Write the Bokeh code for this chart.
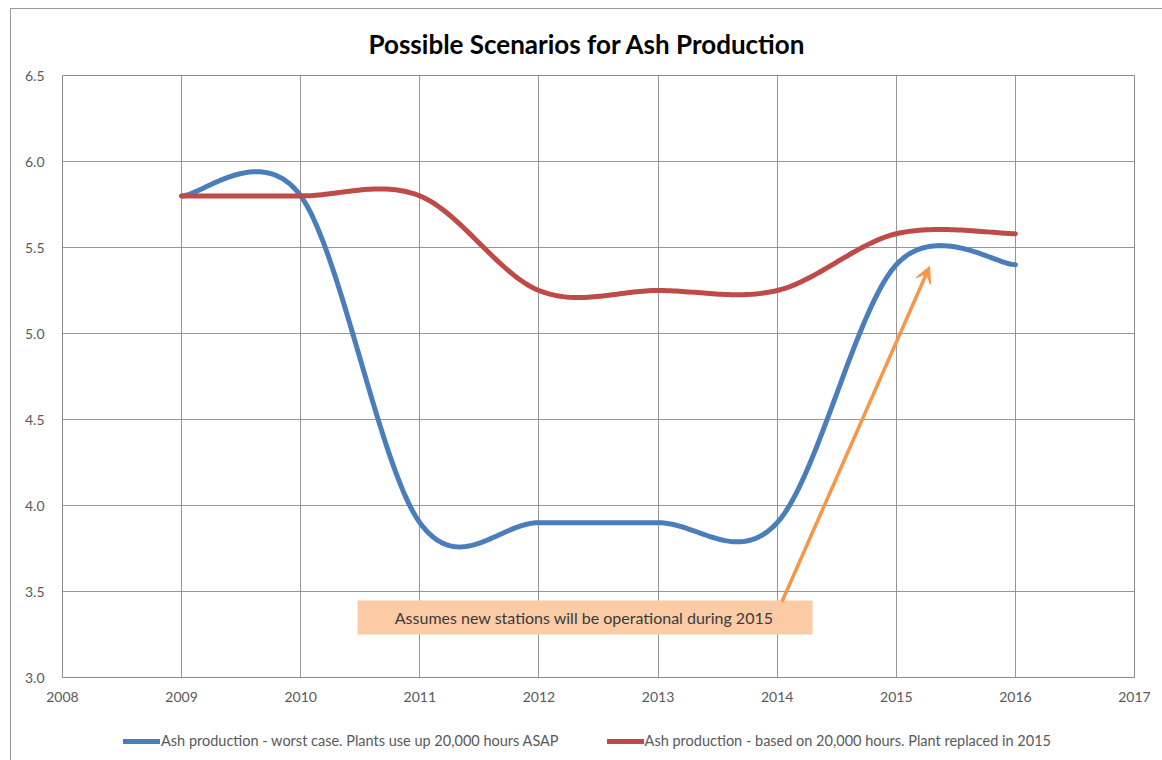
import numpy as np
from bokeh.plotting import figure
from bokeh.layouts import column
from bokeh.models import (Range1d, FixedTicker, Legend, LegendItem, BoxAnnotation,
                          Label, Arrow, VeeHead, NumeralTickFormatter)
from bokeh.embed import file_html
from bokeh.resources import INLINE

# Annual ash production figures for the two scenarios
years = [2009, 2010, 2011, 2012, 2013, 2014, 2015, 2016]
worst_case = [5.8, 5.8, 3.9, 3.9, 3.9, 3.9, 5.4, 5.4]
hours_based = [5.8, 5.8, 5.8, 5.25, 5.25, 5.25, 5.58, 5.58]

x_ticks = [2008, 2009, 2010, 2011, 2012, 2013, 2014, 2015, 2016, 2017]
y_ticks = [3.0, 3.5, 4.0, 4.5, 5.0, 5.5, 6.0, 6.5]

label_worst = "Ash production - worst case. Plants use up 20,000 hours ASAP"
label_hours = "Ash production - based on 20,000 hours. Plant replaced in 2015"
note_text = "Assumes new stations will be operational during 2015"

FONT = "Lato"
GREY_TEXT = "#595959"
BLUE = "#4A7EBB"
RED = "#BE4B48"
ORANGE = "#F79646"


def smooth(xs, ys, n=40):
    """Spreadsheet-style smoothed line: cubic Bezier segments with
    Catmull-Rom control points (tension 1/6)."""
    pts = np.column_stack([xs, ys]).astype(float)
    m = len(pts)
    out_x, out_y = [], []
    t = np.linspace(0, 1, n)[:, None]
    for i in range(m - 1):
        p0 = pts[i - 1] if i > 0 else pts[i]
        p1 = pts[i]
        p2 = pts[i + 1]
        p3 = pts[i + 2] if i + 2 < m else pts[i + 1]
        c1 = p1 + (p2 - p0) / 6.0
        c2 = p2 - (p3 - p1) / 6.0
        seg = ((1 - t) ** 3) * p1 + 3 * ((1 - t) ** 2) * t * c1 \
            + 3 * (1 - t) * t ** 2 * c2 + t ** 3 * p2
        if i > 0:
            seg = seg[1:]
        out_x.extend(seg[:, 0])
        out_y.extend(seg[:, 1])
    return out_x, out_y


# ---- main chart -------------------------------------------------------------
p = figure(width=1152, height=702, output_backend="svg", toolbar_location=None,
           x_range=Range1d(2008, 2017), y_range=Range1d(3.0, 6.5),
           min_border_left=51, min_border_right=29, min_border_top=66,
           min_border_bottom=34, background_fill_color="white",
           border_fill_color="white")
p.margin = (8, 0, 0, 10)
p.styles = {"border-left": "1px solid #9a9a9a", "border-top": "1px solid #9a9a9a"}

p.title.text = "Possible Scenarios for Ash Production"
p.title.text_font = FONT
p.title.text_font_size = "26px"
p.title.text_font_style = "bold"
p.title.text_color = "#000000"
p.title.align = "left"
p.title.offset = 306
p.title.standoff = 32

p.outline_line_color = "#8c8c8c"
p.outline_line_width = 1

for ax in (p.xaxis, p.yaxis):
    ax.axis_line_color = None
    ax.major_tick_line_color = None
    ax.minor_tick_line_color = None
    ax.major_label_text_font = FONT
    ax.major_label_text_font_size = "14px"
    ax.major_label_text_color = GREY_TEXT

p.xaxis.ticker = FixedTicker(ticks=x_ticks)
p.yaxis.ticker = FixedTicker(ticks=y_ticks)
p.yaxis.formatter = NumeralTickFormatter(format="0.0")
p.xaxis.major_label_standoff = 8
p.yaxis.major_label_standoff = 12

p.xgrid.ticker = FixedTicker(ticks=x_ticks)
p.ygrid.ticker = FixedTicker(ticks=y_ticks)
for g in (p.xgrid, p.ygrid):
    g.grid_line_color = "#8c8c8c"
    g.grid_line_width = 1
    g.grid_line_alpha = 0.9

# Annotation box with arrow pointing at the 2015 recovery
note_box = BoxAnnotation(left=2010.477, right=2014.297, bottom=3.25, top=3.448,
                         fill_color="#FBCBA6", fill_alpha=1.0, line_color=None,
                         level="underlay")
p.add_layout(note_box)

wx, wy = smooth(years, worst_case)
hx, hy = smooth(years, hours_based)

p.line(wx, wy, line_color=BLUE, line_width=5, line_cap="round", line_join="round")
p.line(hx, hy, line_color=RED, line_width=5, line_cap="round", line_join="round")

p.add_layout(Label(x=2012.38, y=3.35, text=note_text, text_font=FONT,
                   text_font_size="16px", text_color="#3a3a3a",
                   text_align="center", text_baseline="middle"))

p.add_layout(Arrow(x_start=2014.04, y_start=3.44, x_end=2015.28, y_end=5.39,
                   line_color=ORANGE, line_width=3.5,
                   end=VeeHead(size=16, fill_color=ORANGE, line_color=ORANGE)))

# ---- legend strip below the chart -------------------------------------------
leg = figure(width=1152, height=50, output_backend="svg", toolbar_location=None,
             x_range=Range1d(0, 1), y_range=Range1d(0, 1),
             x_axis_location=None, y_axis_location=None,
             min_border=0, background_fill_color="white",
             border_fill_color="white", outline_line_color=None)
leg.margin = (0, 0, 0, 10)
leg.styles = {"border-left": "1px solid #9a9a9a"}
leg.grid.visible = False

# key swatches sit outside the strip's visible range; only the legend shows them
k_worst = leg.line(x=[-5, -4], y=[-5, -4], line_color=BLUE, line_width=5,
                   line_cap="round")
k_hours = leg.line(x=[-5, -4], y=[-5, -4], line_color=RED, line_width=5,
                   line_cap="round")

legend = Legend(items=[LegendItem(label=label_worst, renderers=[k_worst]),
                       LegendItem(label=label_hours, renderers=[k_hours])],
                orientation="horizontal", location=(61, 11),
                label_text_font=FONT, label_text_font_size="14.5px",
                label_text_color=GREY_TEXT, glyph_width=37, glyph_height=14,
                label_standoff=1, spacing=48, padding=0, margin=0,
                border_line_color=None, background_fill_alpha=0)
leg.add_layout(legend, "center")

layout = column(p, leg, spacing=0)

html = file_html(layout, INLINE)
html = html.replace("<body>", '<body style="background:#ececec; margin:0;">', 1)
open("out.html", "w").write(html)
